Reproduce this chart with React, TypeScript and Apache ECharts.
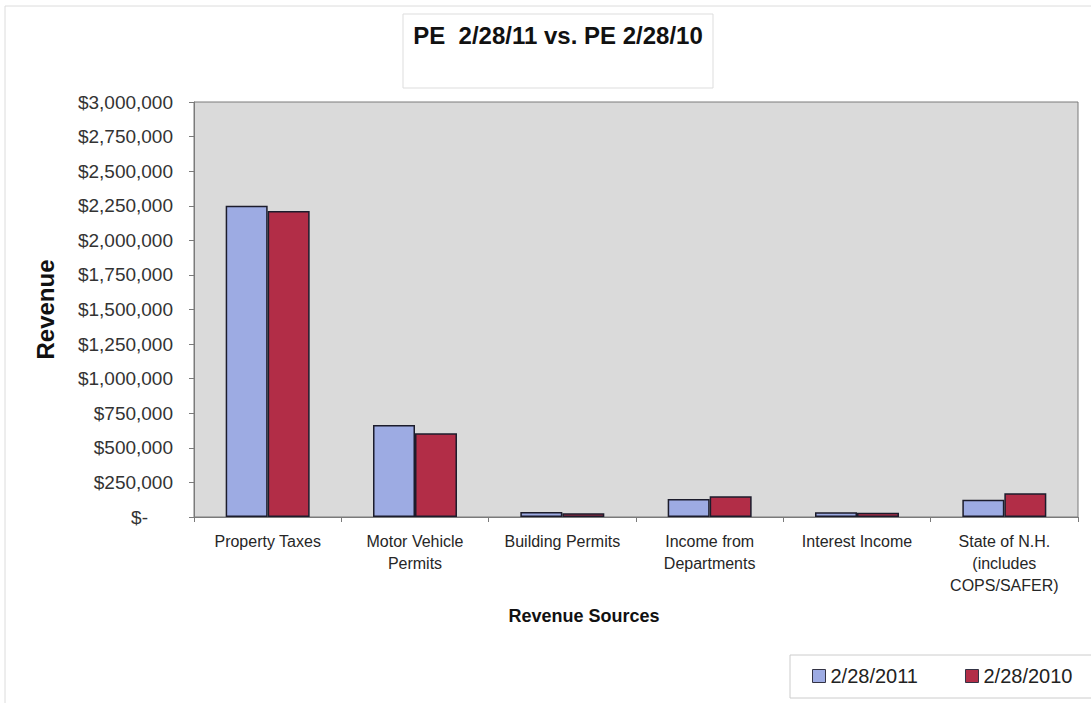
import React, { useEffect, useRef } from "react";
import * as echarts from "echarts";

const categories = [
  "Property Taxes",
  "Motor Vehicle\nPermits",
  "Building Permits",
  "Income from\nDepartments",
  "Interest Income",
  "State of N.H.\n(includes\nCOPS/SAFER)",
];
const seriesNames = ["2/28/2011", "2/28/2010"];
const values2011 = [2250000, 665000, 36000, 130000, 34000, 125000];
const values2010 = [2212000, 605000, 27000, 150000, 30000, 171000];
const yTicks = { min: 0, max: 3000000, interval: 250000 };
const titleText = "PE  2/28/11 vs. PE 2/28/10";
const yName = "Revenue";
const xName = "Revenue Sources";

const FONT = "'Liberation Sans', Arial, sans-serif";

export default function App() {
  const ref = useRef<HTMLDivElement>(null);
  useEffect(() => {
    if (!ref.current) return;
    const chart = echarts.init(ref.current, undefined, { renderer: "svg" });
    chart.setOption({
      animation: false,
      backgroundColor: "#ffffff",
      textStyle: { fontFamily: FONT },
      graphic: [
        {
          type: "rect",
          z: -10,
          shape: { x: 5, y: 6, width: 1100, height: 710 },
          style: { fill: "#ffffff", stroke: "#dcdcdc", lineWidth: 1 },
        },
        {
          type: "rect",
          z: -5,
          shape: { x: 403, y: 14, width: 310, height: 74 },
          style: { fill: "#ffffff", stroke: "#dddddd", lineWidth: 1 },
        },
        {
          type: "text",
          x: 558,
          y: 35,
          style: {
            text: titleText,
            fontFamily: FONT,
            fontSize: 24,
            fontWeight: "bold",
            fill: "#111111",
            align: "center",
            verticalAlign: "middle",
          },
        },
        {
          type: "text",
          x: 584,
          y: 616,
          style: {
            text: xName,
            fontFamily: FONT,
            fontSize: 18,
            fontWeight: "bold",
            fill: "#111111",
            align: "center",
            verticalAlign: "middle",
          },
        },
        {
          type: "rect",
          z: -5,
          shape: { x: 790, y: 655, width: 320, height: 43 },
          style: { fill: "#ffffff", stroke: "#cccccc", lineWidth: 1 },
        },
      ],
      grid: {
        left: 194,
        right: 13,
        top: 102,
        bottom: 186,
        show: true,
        backgroundColor: "#dadada",
        borderColor: "#7a7a7a",
        borderWidth: 1,
      },
      legend: {
        data: seriesNames,
        left: 812,
        top: 666,
        padding: 0,
        itemWidth: 13,
        itemHeight: 13,
        itemGap: 47,
        icon: "rect",
        textStyle: { fontFamily: FONT, fontSize: 20, color: "#222222" },
        itemStyle: { borderColor: "#333344", borderWidth: 1 },
      },
      xAxis: {
        type: "category",
        data: categories,
        axisLine: { lineStyle: { color: "#7a7a7a", width: 1 } },
        axisTick: { show: true, alignWithLabel: false, length: 5, lineStyle: { color: "#7a7a7a" } },
        axisLabel: {
          interval: 0,
          margin: 13,
          fontFamily: FONT,
          fontSize: 16,
          lineHeight: 22,
          color: "#262626",
          align: "center",
        },
      },
      yAxis: {
        type: "value",
        min: yTicks.min,
        max: yTicks.max,
        interval: yTicks.interval,
        name: yName,
        nameLocation: "middle",
        nameGap: 137,
        nameTextStyle: { fontFamily: FONT, fontSize: 24, fontWeight: "bold", color: "#111111" },
        axisLine: { show: true, lineStyle: { color: "#7a7a7a", width: 1 } },
        axisTick: { show: true, length: 5, lineStyle: { color: "#7a7a7a" } },
        splitLine: { show: false },
        axisLabel: {
          margin: 21,
          fontFamily: FONT,
          fontSize: 19,
          color: "#333333",
          formatter: (v: number) =>
            v === 0 ? "{z|$-}" : "$" + v.toLocaleString("en-US"),
          rich: {
            z: { fontFamily: FONT, fontSize: 19, color: "#333333", padding: [0, 25, 0, 0] },
          },
        },
      },
      series: [
        {
          name: seriesNames[0],
          type: "bar",
          data: values2011,
          barGap: "0%",
          barCategoryGap: "43%",
          itemStyle: { color: "#9dabe3", borderColor: "#1c1c2c", borderWidth: 1.5 },
        },
        {
          name: seriesNames[1],
          type: "bar",
          data: values2010,
          barGap: "0%",
          barCategoryGap: "43%",
          itemStyle: { color: "#b22d47", borderColor: "#1c1c2c", borderWidth: 1.5 },
        },
      ],
    });
    return () => chart.dispose();
  }, []);
  return (
    <div
      ref={ref}
      style={{ position: "fixed", left: 0, top: 0, width: 1091, height: 703 }}
    />
  );
}
